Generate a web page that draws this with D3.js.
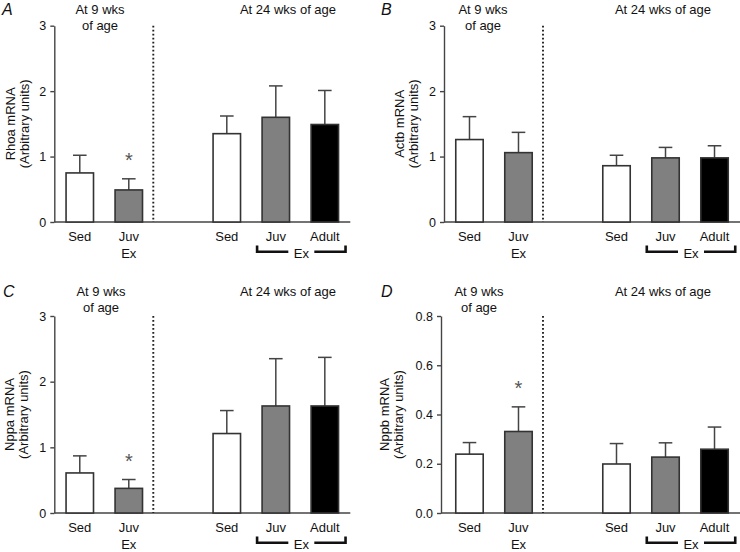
<!DOCTYPE html>
<html>
<head>
<meta charset="utf-8">
<script src="https://cdn.jsdelivr.net/npm/d3@7"></script>
<style>
    body { margin: 0; background: #fff; }
    text { font-family: "Liberation Sans", Arial, sans-serif; fill: #111; }
</style>
</head>
<body>
<div id="chart"></div>
<script>
// Slots on the x axis ("gap" is the empty slot between the two age groups)
const categories = ["Sed9", "Juv9", "gap", "Sed24", "Juv24", "Adult24"];
const barGroups = ["Sed9", "Juv9", "Sed24", "Juv24", "Adult24"];
const barLabels = ["Sed", "Juv", "Sed", "Juv", "Adult"];

// Values (mean and upward error)
const rhoaMean = [0.75, 0.49, 1.35, 1.60, 1.49];
const rhoaErr  = [0.27, 0.17, 0.27, 0.48, 0.52];
const actbMean = [1.26, 1.06, 0.86, 0.98, 0.98];
const actbErr  = [0.35, 0.31, 0.16, 0.16, 0.185];
const nppaMean = [0.61, 0.375, 1.21, 1.63, 1.63];
const nppaErr  = [0.26, 0.135, 0.35, 0.72, 0.74];
const nppbMean = [0.239, 0.331, 0.199, 0.227, 0.259];
const nppbErr  = [0.047, 0.10, 0.083, 0.058, 0.09];

// Significance markers
const sigRhoa = ["Juv9"];
const sigActb = [];
const sigNppa = ["Juv9"];
const sigNppb = ["Juv9"];

// Tick labels
const ticksUnits = [0, 1, 2, 3];
const ticksNppb = [0, 0.2, 0.4, 0.6, 0.8];

const panelLetters = ["A", "B", "C", "D"];
const yTitles = ["Rhoa mRNA", "Actb mRNA", "Nppa mRNA", "Nppb mRNA"];
const unitsLabel = "(Arbitrary units)";
const title9 = ["At 9 wks", "of age"];
const title24 = "At 24 wks of age";
const exLabel = "Ex";

// Styles
const fills = {Sed9: "#ffffff", Juv9: "#808080", Sed24: "#ffffff", Juv24: "#808080", Adult24: "#000000"};
const lineColor = "#444";

// Panel placement
const plotWidth = 296;
const layout = [
    {x: 54.3, top: 25.7, bottom: 222, axisDx: 0,  t9x: 100, t24x: 288, titleY: 13.5, letterX: 2,   letterY: 15,  yLabDx: -39.5},
    {x: 444,  top: 25.7, bottom: 222, axisDx: 0,  t9x: 483, t24x: 663, titleY: 13.5, letterX: 381, letterY: 15,  yLabDx: -40.5},
    {x: 54.3, top: 316,  bottom: 513, axisDx: 0,  t9x: 101, t24x: 288, titleY: 296,  letterX: 3,   letterY: 297, yLabDx: -40},
    {x: 444,  top: 316,  bottom: 513, axisDx: -3, t9x: 479, t24x: 663, titleY: 296,  letterX: 381, letterY: 297, yLabDx: -52.5}
];

const panels = [
    {mean: rhoaMean, err: rhoaErr, sig: sigRhoa, ticks: ticksUnits, format: d3.format("d")},
    {mean: actbMean, err: actbErr, sig: sigActb, ticks: ticksUnits, format: d3.format("d")},
    {mean: nppaMean, err: nppaErr, sig: sigNppa, ticks: ticksUnits, format: d3.format("d")},
    {mean: nppbMean, err: nppbErr, sig: sigNppb, ticks: ticksNppb, format: d3.format(".1f")}
];

const svg = d3.select("#chart")
              .append("svg")
              .attr("width", 740)
              .attr("height", 552);

svg.append("rect")
   .attr("width", 740)
   .attr("height", 552)
   .attr("fill", "#fff");

function drawPanel(p, i) {
    const lay = layout[i];
    const g = svg.append("g");

    const xScale = d3.scaleBand()
                     .domain(categories)
                     .range([lay.x, lay.x + plotWidth])
                     .paddingInner(0.44)
                     .paddingOuter(0.24);

    const yScale = d3.scaleLinear()
                     .domain([0, p.ticks[p.ticks.length - 1]])
                     .range([lay.bottom, lay.top]);

    const bw = xScale.bandwidth();
    const rows = barGroups.map((k, j) => ({key: k, label: barLabels[j], mean: p.mean[j], err: p.err[j]}));

    // Y axis
    const axisX = lay.x + lay.axisDx;
    const yAxis = g.append("g")
                   .attr("transform", `translate(${axisX},0)`)
                   .call(d3.axisLeft(yScale)
                           .tickValues(p.ticks)
                           .tickFormat(p.format)
                           .tickSize(4)
                           .tickSizeOuter(0)
                           .tickPadding(4));
    yAxis.select(".domain").attr("stroke", lineColor).attr("stroke-width", 1.4);
    yAxis.selectAll(".tick line").attr("stroke", lineColor).attr("stroke-width", 1.4);
    yAxis.selectAll(".tick text")
         .attr("fill", "#111")
         .style("font-size", "12.5px")
         .style("font-family", "'Liberation Sans', Arial, sans-serif");

    // Baseline
    g.append("line")
     .attr("x1", axisX)
     .attr("x2", lay.x + plotWidth)
     .attr("y1", yScale(0))
     .attr("y2", yScale(0))
     .attr("stroke", lineColor)
     .attr("stroke-width", 1.4);

    // Dotted separator
    const sepX = (xScale("Juv9") + bw + xScale("gap")) / 2;
    g.append("line")
     .attr("x1", sepX)
     .attr("x2", sepX)
     .attr("y1", lay.top)
     .attr("y2", lay.bottom)
     .attr("stroke", "#222")
     .attr("stroke-width", 1.9)
     .attr("stroke-dasharray", "1.7,2.3");

    // Error bars
    const errG = g.append("g")
                  .selectAll("g")
                  .data(rows)
                  .enter()
                  .append("g")
                  .attr("stroke", lineColor)
                  .attr("stroke-width", 1.5);
    errG.append("line")
        .attr("x1", d => xScale(d.key) + bw / 2)
        .attr("x2", d => xScale(d.key) + bw / 2)
        .attr("y1", d => yScale(d.mean))
        .attr("y2", d => yScale(d.mean + d.err));
    errG.append("line")
        .attr("x1", d => xScale(d.key) + bw / 2 - 6.8)
        .attr("x2", d => xScale(d.key) + bw / 2 + 6.8)
        .attr("y1", d => yScale(d.mean + d.err))
        .attr("y2", d => yScale(d.mean + d.err));

    // Bars
    g.append("g")
     .selectAll("rect")
     .data(rows)
     .enter()
     .append("rect")
     .attr("x", d => xScale(d.key))
     .attr("y", d => yScale(d.mean))
     .attr("width", bw)
     .attr("height", d => yScale(0) - yScale(d.mean))
     .attr("fill", d => fills[d.key])
     .attr("stroke", "#333")
     .attr("stroke-width", 1.6);

    // Stars
    g.append("g")
     .selectAll("text")
     .data(rows.filter(d => p.sig.includes(d.key)))
     .enter()
     .append("text")
     .text("*")
     .attr("x", d => xScale(d.key) + bw / 2)
     .attr("y", d => yScale(d.mean + d.err) - 12)
     .attr("text-anchor", "middle")
     .style("font-size", "20px")
     .style("fill", "#555");

    // Category labels
    g.append("g")
     .selectAll("text")
     .data(rows)
     .enter()
     .append("text")
     .text(d => d.label)
     .attr("x", d => xScale(d.key) + bw / 2)
     .attr("y", lay.bottom + 19)
     .attr("text-anchor", "middle")
     .style("font-size", "13px");

    g.append("text")
     .text(exLabel)
     .attr("x", xScale("Juv9") + bw / 2)
     .attr("y", lay.bottom + 36)
     .attr("text-anchor", "middle")
     .style("font-size", "13px");

    // Bracket under the exercised 24 wk groups
    const bx0 = xScale("Juv24") - 5;
    const bx1 = xScale("Adult24") + bw + 7;
    const bMid = (bx0 + bx1) / 2;
    const by = lay.bottom + 29.7;
    const byTop = lay.bottom + 23.5;
    g.append("path")
     .attr("d", `M${bx0},${byTop}V${by}H${bMid - 13}M${bMid + 13},${by}H${bx1}V${byTop}`)
     .attr("fill", "none")
     .attr("stroke", "#111")
     .attr("stroke-width", 2.6);
    g.append("text")
     .text(exLabel)
     .attr("x", bMid)
     .attr("y", lay.bottom + 36)
     .attr("text-anchor", "middle")
     .style("font-size", "13px");

    // Group titles
    g.append("text")
     .text(title9[0])
     .attr("x", lay.t9x)
     .attr("y", lay.titleY)
     .attr("text-anchor", "middle")
     .style("font-size", "13px");
    g.append("text")
     .text(title9[1])
     .attr("x", lay.t9x)
     .attr("y", lay.titleY + 16)
     .attr("text-anchor", "middle")
     .style("font-size", "13px");
    g.append("text")
     .text(title24)
     .attr("x", lay.t24x)
     .attr("y", lay.titleY)
     .attr("text-anchor", "middle")
     .style("font-size", "13px");

    // Panel letter
    g.append("text")
     .text(panelLetters[i])
     .attr("x", lay.letterX)
     .attr("y", lay.letterY)
     .style("font-size", "16px")
     .style("font-style", "italic");

    // Y axis title (two lines)
    const yMid = (lay.top + lay.bottom) / 2;
    const yLab = g.append("g")
                  .attr("transform", `translate(${axisX + lay.yLabDx},${yMid}) rotate(-90)`);
    yLab.append("text")
        .text(yTitles[i])
        .attr("text-anchor", "middle")
        .style("font-size", "13px");
    yLab.append("text")
        .text(unitsLabel)
        .attr("y", 14)
        .attr("text-anchor", "middle")
        .style("font-size", "13px");
}

panels.forEach(drawPanel);
</script>
</body>
</html>
